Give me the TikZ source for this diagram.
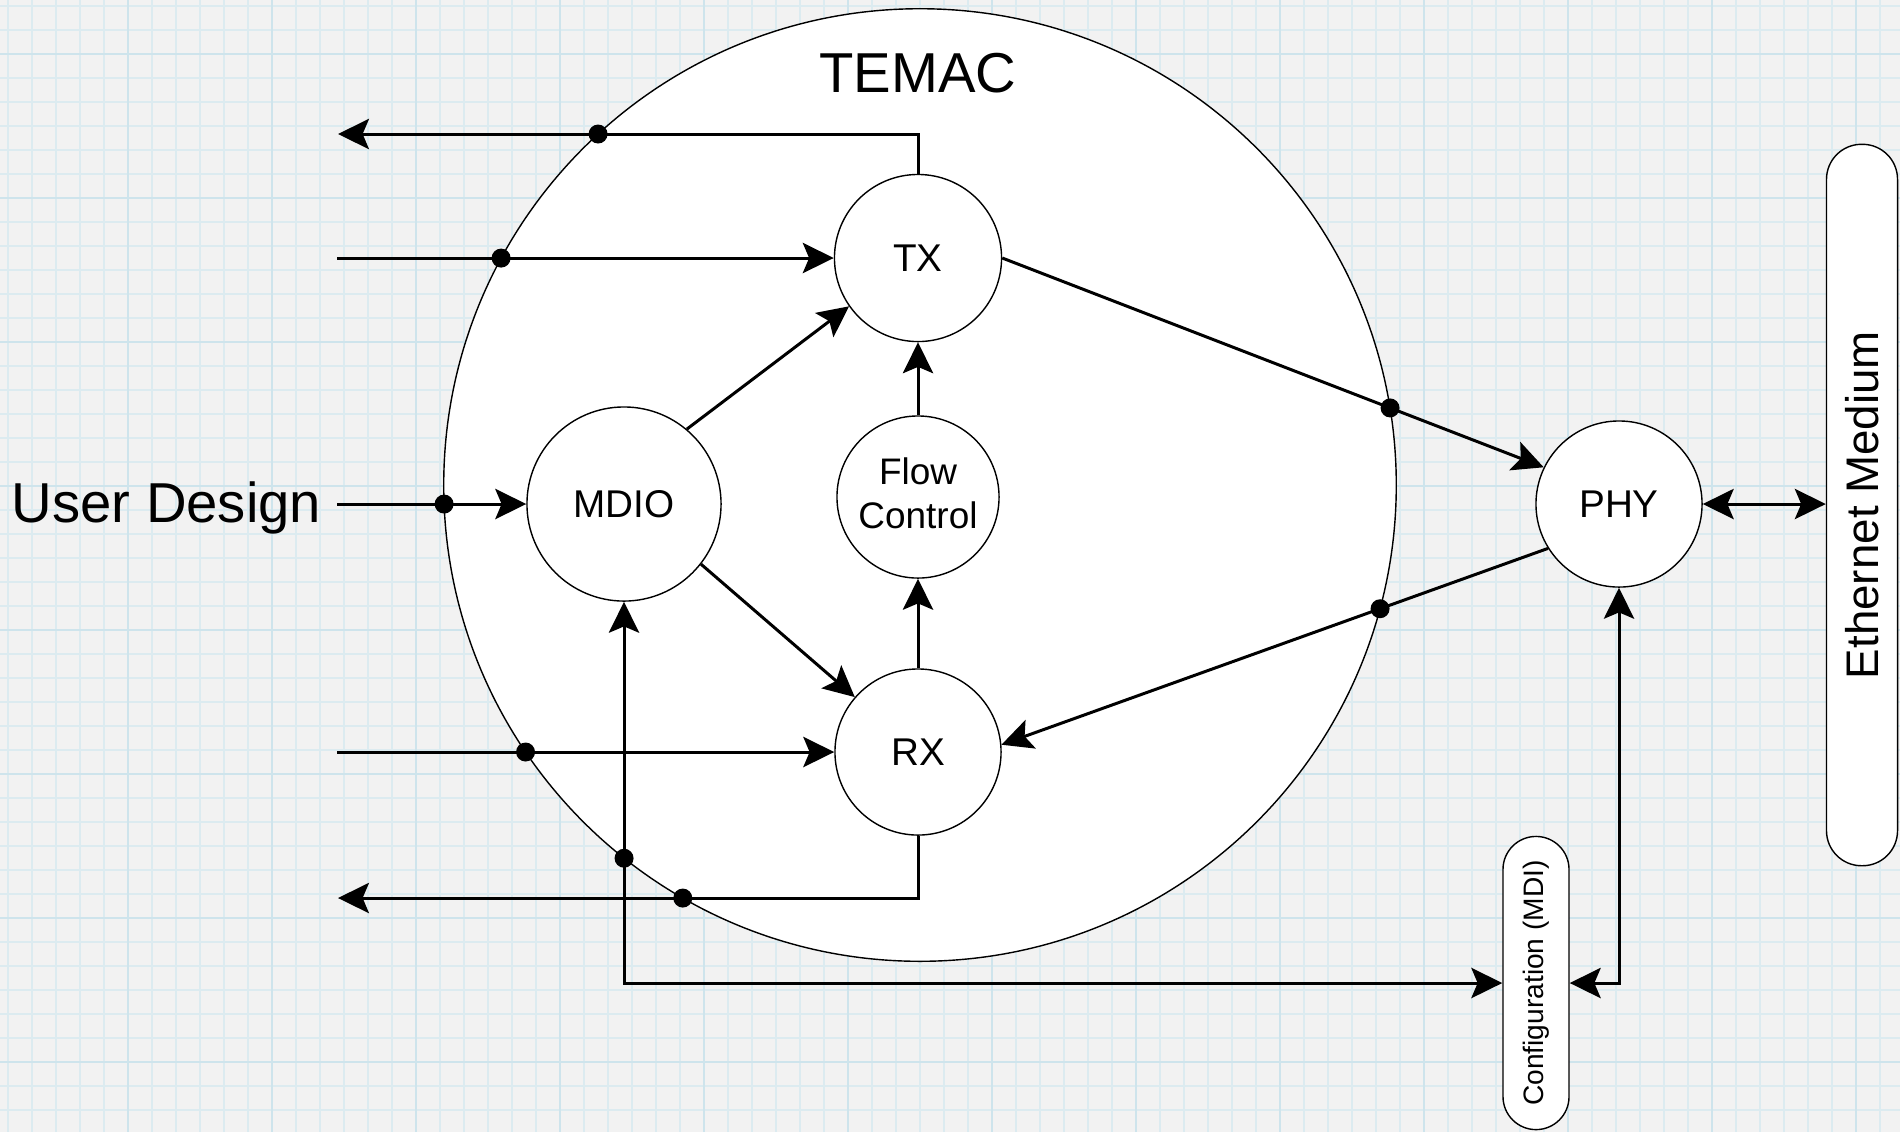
\documentclass[tikz,border=0pt]{standalone}
\usepackage{fontspec}
\setmainfont{Liberation Sans}
\usepackage{xcolor}
\definecolor{paper-bg}{RGB}{242,242,242}
\definecolor{grid-minor}{RGB}{220,235,240}
\definecolor{grid-major}{RGB}{206,228,236}
\usetikzlibrary{arrows.meta,intersections}

\begin{document}
\begin{tikzpicture}[
    x=0.01cm, y=-0.01cm,
    >={Stealth[length=8.8pt,width=8.6pt,inset=1.8pt]},
    block/.style={
        circle,
        draw=black,
        line width=0.4pt,
        fill=white,
        inner sep=0pt,
        align=center,
        font=\fontsize{11}{13}\selectfont
    },
    bar box/.style={
        rectangle,
        rotate=90,
        draw=black,
        line width=0.4pt,
        fill=white,
        inner sep=0pt
    },
    wire/.style={line width=0.85pt, ->},
    both wire/.style={line width=0.85pt, <->},
    big label/.style={font=\fontsize{16}{19}\selectfont, inner sep=0pt},
    grid minor/.style={draw=grid-minor, line width=0.35pt},
    grid major/.style={draw=grid-major, line width=0.5pt}
]

\useasboundingbox (0,0) rectangle (1900,1132);

% Graph paper background
\fill[paper-bg] (0,0) rectangle (1900,1132);
\foreach \gx in {8,32,...,1900} \draw[grid minor] (\gx,0) -- (\gx,1132);
\foreach \gy in {6,30,...,1132} \draw[grid minor] (0,\gy) -- (1900,\gy);
\foreach \gx in {128,272,...,1900} \draw[grid major] (\gx,0) -- (\gx,1132);
\foreach \gy in {54,198,...,1132} \draw[grid major] (0,\gy) -- (1900,\gy);

% TEMAC core
\node[circle, draw=black, line width=0.4pt, fill=white, inner sep=0pt, minimum size=9.52cm] (temac) at (920,485) {};
\path[name path=rim] (temac.center) circle[radius=4.76cm];
\node[big label, anchor=base] (temac label) at (918,92) {TEMAC};

% Blocks inside the core
\node[block, minimum size=1.67cm] (tx) at (918,258) {TX};
\node[block, minimum size=1.62cm, font=\fontsize{10.5}{12.5}\selectfont] (flow) at (918,497) {\raisebox{2pt}{Flow}\\\raisebox{2pt}{Control}};
\node[block, minimum size=1.66cm] (rx) at (918,752) {RX};
\node[block, minimum size=1.94cm] (mdio) at (624,504) {MDIO};

% Outside the core
\node[block, minimum size=1.66cm] (phy) at (1619,504) {PHY};
\node[bar box, minimum width=7.21cm, minimum height=0.71cm, rounded corners=0.35cm,
      font=\fontsize{13}{15}\selectfont] (medium) at (1862,505) {Ethernet Medium};
\node[bar box, minimum width=2.93cm, minimum height=0.66cm, rounded corners=0.33cm,
      font=\fontsize{8}{10}\selectfont] (config) at (1536,983) {Configuration (MDI)};

% User side
\node[big label, anchor=base west] (user label) at (11,522) {User Design};
\coordinate (tx out) at (338,134);
\coordinate (tx in) at (337,258);
\coordinate (user in) at (337,504);
\coordinate (rx in) at (337,752);
\coordinate (rx out) at (338,898);

% Connectors
\draw[wire, name path=w1] (tx.north) |- (tx out);
\draw[wire, name path=w2] (tx in) -- (tx.west);
\draw[wire, name path=w3] (user in) -- (mdio.west);
\draw[wire, name path=w4] (rx in) -- (rx.west);
\draw[wire, name path=w5] (rx.south) |- (rx out);
\draw[both wire, name path=w6] (mdio.south) |- (config.north);
\draw[wire, name path=w7] (tx.east) -- (phy.154);
\draw[wire, name path=w8] (phy.212) -- (rx.5);
\draw[wire] (mdio.50) -- (tx.215);
\draw[wire] (mdio.-38) -- (rx.139);
\draw[wire] (flow.north) -- (tx.south);
\draw[wire] (rx.north) -- (flow.south);
\draw[both wire] (phy.south) |- (config.south);
\draw[both wire] (phy.east) -- (phy.east -| medium.north);

% Junction dots where wires cross the core edge
\foreach \w in {w1,w2,w3,w4,w5,w6,w7,w8}
  \fill[name intersections={of=rim and \w}] (intersection-1) circle (2.7pt);

\end{tikzpicture}
\end{document}
